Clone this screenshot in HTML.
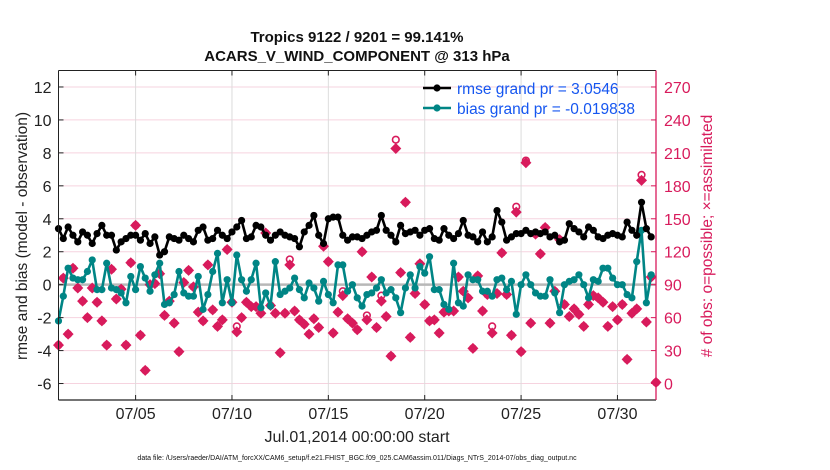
<!DOCTYPE html>
<html><head><meta charset="utf-8"><style>
body{margin:0;background:#fff;}
svg{display:block;font-family:"Liberation Sans",Arial,sans-serif;}
</style></head><body>
<svg id="chart" width="830" height="470" viewBox="0 0 830 470"></svg>
<script>
const rmseValues=[3.4,2.8,3.5,3.0,2.6,3.2,3.0,2.5,3.1,3.6,3.0,3.0,2.1,2.6,2.8,3.0,3.0,2.7,3.1,2.5,2.9,1.8,2.0,2.9,2.8,2.7,3.0,2.8,2.6,3.3,3.5,2.7,2.8,3.3,3.0,2.8,3.2,3.5,3.9,2.8,2.9,3.6,
3.5,3.0,2.7,3.0,3.2,3.0,2.9,2.8,2.3,3.2,3.6,4.2,3.0,2.5,4.0,4.1,4.1,3.0,2.7,2.9,2.9,2.8,3.0,3.2,3.3,4.2,3.3,3.0,2.6,3.6,3.1,3.2,3.3,3.0,3.3,3.4,2.8,2.7,3.4,3.0,2.8,3.1,
3.9,3.0,2.9,2.6,3.2,2.6,2.9,4.5,3.8,2.7,2.9,3.1,3.1,3.3,3.1,3.2,3.1,3.2,2.9,3.0,2.6,2.7,3.7,3.4,3.2,2.9,3.5,3.3,2.9,2.8,3.0,3.1,3.0,2.9,3.8,3.3,3.0,5.0,3.4,2.9];
const biasValues=[-2.2,-0.7,1.0,0.4,0.3,0.3,0.8,1.5,-0.3,-0.3,1.3,-0.2,-0.3,-0.5,-1.1,0.5,-0.3,1.1,0.4,-0.4,0.6,1.3,-1.2,-1.1,-0.6,0.8,-0.5,-0.7,-0.7,0.5,-1.5,-0.6,0.8,1.9,-1.1,0.3,-1.1,1.8,0.3,-0.4,0.3,1.3,
-1.4,-0.5,-1.3,1.4,-0.6,-0.4,-0.2,0.4,-0.3,-0.8,0.1,-0.2,-1.0,0.2,-0.6,-1.1,1.2,1.2,-0.4,0,-0.8,-1.3,-0.6,-0.5,-0.2,0.3,-0.5,-0.3,-0.8,-1.7,-0.2,0.6,-0.2,1.1,0.7,1.7,-0.3,-0.3,-1.2,-1.5,
1.3,-1.1,-1.3,0.6,0.3,0.3,-0.4,-0.4,-0.7,0.3,0.4,-0.3,0.2,-1.8,0,0.6,0,-0.5,-0.7,-0.7,0.3,-0.5,-1.7,0,0.2,0.3,0.6,0,-0.8,0.3,0.2,1.0,1.0,0.4,0,0,-0.6,-0.8,1.4,3.3,-1.1,0.6];
const assimCounts=[35,96,45,105,87,75,60,87,74,57,35,104,77,86,35,110,144,44,12,90,91,100,62,75,55,29,92,103,88,65,57,108,67,52,58,122,74,47,60,74,70,70,64,
137,71,64,28,64,108,66,58,54,45,59,51,125,111,46,65,80,59,55,49,120,58,97,51,75,61,25,214,101,165,42,82,109,72,57,58,46,65,66,
66,97,84,78,32,98,66,81,46,82,119,81,44,156,29,201,55,136,118,142,55,84,131,72,61,68,63,52,72,80,78,74,52,70,58,72,22,64,68,185,56,97,1];
const possibleCounts=[35,96,45,105,87,75,60,87,74,57,35,104,77,86,35,110,144,44,12,90,91,100,62,75,55,29,92,103,88,65,57,108,67,52,58,122,74,52,60,74,70,70,64,
137,71,64,28,64,113,66,58,54,45,59,51,125,111,46,65,84,59,55,49,120,62,97,51,80,61,25,222,101,165,42,82,109,72,57,58,46,65,66,
66,97,84,78,32,98,66,81,52,82,119,81,44,161,29,203,55,136,118,142,55,84,131,72,61,68,63,52,72,80,78,74,52,70,58,72,22,64,68,190,56,97,1];
const leftTicks=[-6,-4,-2,0,2,4,6,8,10,12];
const rightTicks=[0,30,60,90,120,150,180,210,240,270];
const dayTicks=[4,9,14,19,24,29];
const dayLabels=["07/05","07/10","07/15","07/20","07/25","07/30"];

const L=58.5,R=656,T=70.5,B=400;
const xS=d=>L+d*(R-L)/31;
const yS=v=>T+(13-v)*(B-T)/20;
const yC=c=>yS(-6+c/15);
const NS="http://www.w3.org/2000/svg";
const svg=document.getElementById('chart');
function mk(tag,attrs,parent){const e=document.createElementNS(NS,tag);for(const k in attrs)e.setAttribute(k,attrs[k]);(parent||svg).appendChild(e);return e;}
function txt(s,attrs){const e=mk('text',attrs);e.textContent=s;return e;}

// grid
leftTicks.forEach(v=>{const g=mk('line',{x1:L,x2:R,y1:yS(v),y2:yS(v),stroke:'#f6d3df','stroke-width':1});

});
dayTicks.forEach(d=>{const g=mk('line',{x1:xS(d),x2:xS(d),y1:T,y2:B,stroke:'#dcdcdc','stroke-width':1});

});
const zl=mk('line',{x1:L,x2:R,y1:yS(0),y2:yS(0),stroke:'#b8b8b8','stroke-width':2.5});



// counts
const ptsG=mk('g',{});


possibleCounts.forEach((c,i)=>{const x=xS(i*0.25),y=yC(c);
const o=mk('circle',{cx:x,cy:y,r:3.3,fill:'none',stroke:'#d81b5c','stroke-width':1.6},ptsG);

});
assimCounts.forEach((c,i)=>{const x=xS(i*0.25),y=yC(c);
const d=mk('path',{d:`M${x} ${y-5.5}L${x+5.5} ${y}L${x} ${y+5.5}L${x-5.5} ${y}Z`,fill:'#d81b5c'},ptsG);

});

function series(vals,color,name){
 const g=mk('g',{});
 
 
 const p=vals.map((v,i)=>`${i?'L':'M'}${xS(i*0.25).toFixed(1)} ${yS(v).toFixed(1)}`).join('');
 mk('path',{d:p,fill:'none',stroke:color,'stroke-width':2.6,'stroke-linejoin':'round'},g);
 vals.forEach((v,i)=>{const c=mk('circle',{cx:xS(i*0.25),cy:yS(v),r:3.6,fill:color},g);
 
 });
}
series(biasValues,'#008585','bias-series');
series(rmseValues,'#000','rmse-series');

// axes frame
mk('line',{x1:L,x2:R,y1:T,y2:T,stroke:'#222','stroke-width':1});
mk('line',{x1:L,x2:L,y1:T,y2:B,stroke:'#222','stroke-width':1});
mk('line',{x1:L,x2:R,y1:B,y2:B,stroke:'#222','stroke-width':1.2});
const ra=mk('line',{x1:R,x2:R,y1:T,y2:B,stroke:'#d81b5c','stroke-width':1.3});


leftTicks.forEach(v=>{mk('line',{x1:L,x2:L+5,y1:yS(v),y2:yS(v),stroke:'#222'});
const t=txt(String(v),{x:L-7,y:yS(v)+6,'text-anchor':'end','font-size':16,fill:'#222'});

});
rightTicks.forEach(c=>{mk('line',{x1:R-5,x2:R,y1:yC(c),y2:yC(c),stroke:'#d81b5c'});
const t=txt(String(c),{x:R+8,y:yC(c)+6,'font-size':16,fill:'#d81b5c'});

});
dayTicks.forEach((d,i)=>{mk('line',{x1:xS(d),x2:xS(d),y1:B-5,y2:B,stroke:'#222'});mk('line',{x1:xS(d),x2:xS(d),y1:T,y2:T+5,stroke:'#222'});
const t=txt(dayLabels[i],{x:xS(d),y:419,'text-anchor':'middle','font-size':16,fill:'#222'});

});
</script>
<svg width="0" height="0"></svg>
<div style="position:absolute;left:0;top:0;width:830px;height:470px;pointer-events:none;">
<svg width="830" height="470" style="position:absolute;left:0;top:0;font-family:'Liberation Sans',Arial,sans-serif">
 <text x="357" y="42" text-anchor="middle" font-size="15" font-weight="bold" fill="#111">Tropics 9122 / 9201 = 99.141%</text>
 <text x="357" y="61" text-anchor="middle" font-size="15" font-weight="bold" fill="#111">ACARS_V_WIND_COMPONENT @ 313 hPa</text>
 <g>
  <line x1="423" x2="451" y1="88" y2="88" stroke="#000" stroke-width="2.6"/><circle cx="437" cy="88" r="3.6" fill="#000"/>
  <text x="457" y="94" font-size="15.5" fill="#1556f0">rmse grand pr = 3.0546</text>
  <line x1="423" x2="451" y1="108" y2="108" stroke="#008585" stroke-width="2.6"/><circle cx="437" cy="108" r="3.6" fill="#008585"/>
  <text x="457" y="114" font-size="15.5" fill="#1556f0">bias grand pr = -0.019838</text>
 </g>
 <text transform="translate(27,236) rotate(-90)" text-anchor="middle" font-size="15.5" fill="#222">rmse and bias (model - observation)</text>
 <text transform="translate(712,236) rotate(-90)" text-anchor="middle" font-size="15.5" fill="#d81b5c"># of obs: o=possible; ×=assimilated</text>
 <text x="357" y="442" text-anchor="middle" font-size="16" fill="#222">Jul.01,2014 00:00:00 start</text>
 <text x="357" y="460" text-anchor="middle" font-size="7" fill="#111">data file: /Users/raeder/DAI/ATM_forcXX/CAM6_setup/f.e21.FHIST_BGC.f09_025.CAM6assim.011/Diags_NTrS_2014-07/obs_diag_output.nc</text>
</svg></div>
</body></html>
